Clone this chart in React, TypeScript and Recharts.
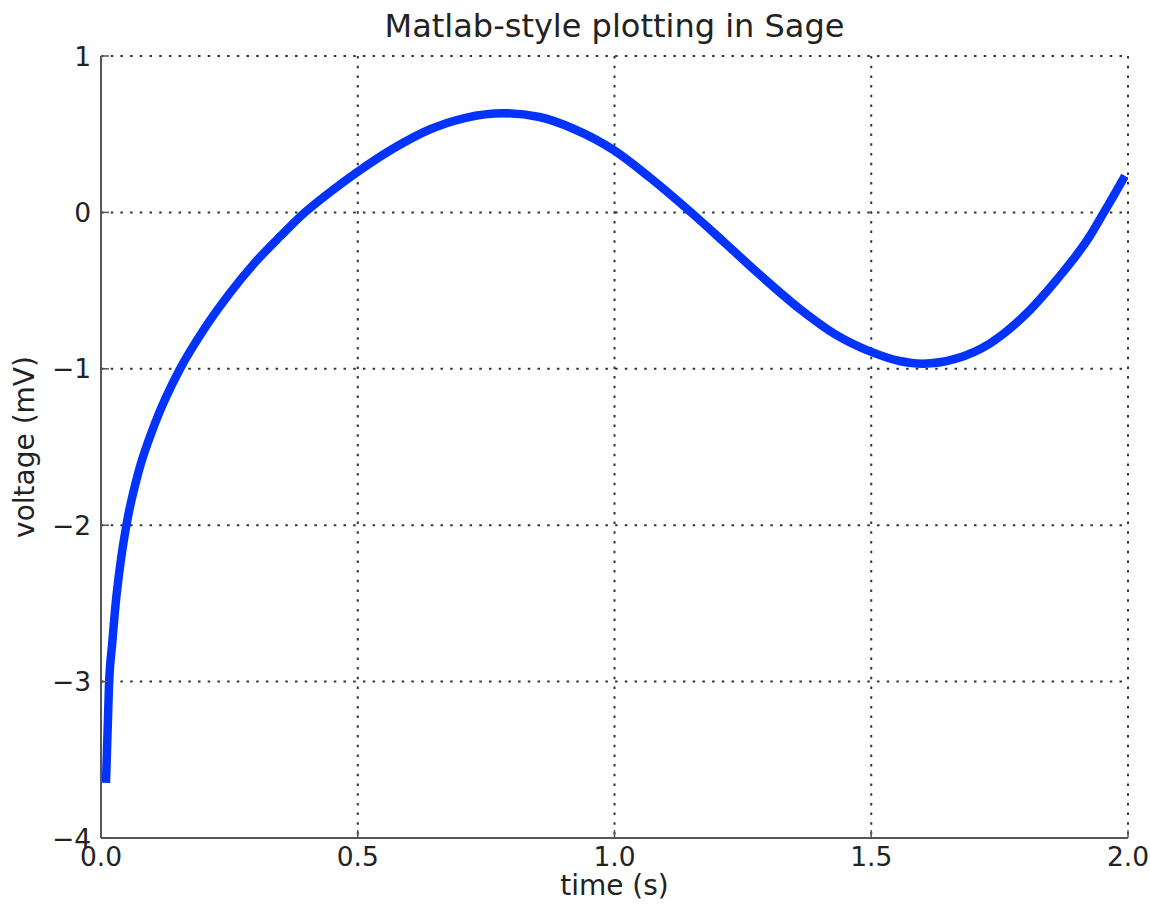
import React from "react";
import {
  LineChart,
  Line,
  XAxis,
  YAxis,
  CartesianGrid,
  Label,
} from "recharts";

// time (s) samples
const times: number[] = [
  0.01, 0.0156, 0.022, 0.0286, 0.038, 0.05, 0.073, 0.105, 0.154, 0.2, 0.25,
  0.3, 0.35, 0.397, 0.45, 0.5, 0.57, 0.64, 0.71, 0.783, 0.854, 0.92, 1.0,
  1.07, 1.149, 1.21, 1.28, 1.36, 1.43, 1.5, 1.555, 1.6, 1.665, 1.73, 1.795,
  1.86, 1.925, 1.953, 1.97, 1.99,
];
// voltage (mV) values
const voltages: number[] = [
  -3.62, -3.02, -2.75, -2.5, -2.24, -1.99, -1.66, -1.35, -1.0, -0.75, -0.52,
  -0.32, -0.15, 0.0, 0.14, 0.26, 0.41, 0.53, 0.605, 0.634, 0.61, 0.535, 0.395,
  0.22, 0.0, -0.18, -0.39, -0.615, -0.78, -0.892, -0.95, -0.967, -0.935,
  -0.84, -0.67, -0.435, -0.155, 0.0, 0.095, 0.21,
];

const xTicks: number[] = [0, 0.5, 1.0, 1.5, 2.0];
const yTicks: number[] = [-4, -3, -2, -1, 0, 1];
const xTickLabels: string[] = ["0.0", "0.5", "1.0", "1.5", "2.0"];
const yTickLabels: string[] = ["−4", "−3", "−2", "−1", "0", "1"];

const titleText = "Matlab-style plotting in Sage";
const xLabelText = "time (s)";
const yLabelText = "voltage (mV)";

const data = times.map((t, i) => ({ t, v: voltages[i] }));

const FONT = "'DejaVu Sans', Verdana, sans-serif";
const TEXT_COLOR = "#222";
const SPINE = "#555";
const TICK_LEN = 8;
const MARGIN_TOP = 48;
const TICK_FONT = 26.5;
const LABEL_FONT = 28;
const TITLE_FONT = 32;

const BottomTick = (props: any) => {
  const { x, y, payload } = props;
  const idx = xTicks.indexOf(payload.value);
  return (
    <g>
      <line x1={x} x2={x} y1={y} y2={y - TICK_LEN} stroke={SPINE} strokeWidth={1.5} />
      <text
        x={x}
        y={y + 28}
        textAnchor="middle"
        fontFamily={FONT}
        fontSize={TICK_FONT}
        fill={TEXT_COLOR}
      >
        {idx >= 0 ? xTickLabels[idx] : String(payload.value)}
      </text>
    </g>
  );
};

const TopTick = (props: any) => {
  const { x, y } = props;
  return <line x1={x} x2={x} y1={y} y2={y + TICK_LEN} stroke={SPINE} strokeWidth={1.5} />;
};

const LeftTick = (props: any) => {
  const { x, y, payload } = props;
  const idx = yTicks.indexOf(payload.value);
  return (
    <g>
      <line x1={x} x2={x + TICK_LEN} y1={y} y2={y} stroke={SPINE} strokeWidth={1.5} />
      <text
        x={x - 10}
        y={y}
        dy="0.36em"
        textAnchor="end"
        fontFamily={FONT}
        fontSize={TICK_FONT}
        fill={TEXT_COLOR}
      >
        {idx >= 0 ? yTickLabels[idx] : String(payload.value)}
      </text>
    </g>
  );
};

const RightTick = (props: any) => {
  const { x, y } = props;
  return <line x1={x} x2={x - TICK_LEN} y1={y} y2={y} stroke={SPINE} strokeWidth={1.5} />;
};

export default function App() {
  return (
    <div
      style={{
        width: 1150,
        height: 904,
        padding: "8px 0 0 8px",
        boxSizing: "border-box",
        background: "#fff",
      }}
    >
      <style>{`html { overflow: hidden; } body { margin: 0; } .recharts-wrapper, .recharts-surface { overflow: visible !important; }`}</style>
      <LineChart
        width={1142}
        height={888}
        data={data}
        style={{ overflow: "visible" }}
        margin={{ top: MARGIN_TOP, right: 22, bottom: 0, left: 0 }}
      >
        <CartesianGrid
          xAxisId="bottom"
          yAxisId="left"
          stroke="#333"
          strokeWidth={2}
          strokeDasharray="2.5 7.2"
          horizontalValues={yTicks}
          verticalValues={xTicks}
        />
        <XAxis
          xAxisId="bottom"
          dataKey="t"
          type="number"
          domain={[0, 2]}
          ticks={xTicks}
          interval={0}
          allowDataOverflow
          height={58}
          tickSize={0}
          tickMargin={0}
          tickLine={false}
          axisLine={{ stroke: SPINE, strokeWidth: 2 }}
          tick={BottomTick}
        >
          <Label
            content={(p: any) => {
              const vb = p.viewBox;
              return (
                <g>
                  <text
                    x={vb.x + vb.width / 2}
                    y={vb.y + 57}
                    textAnchor="middle"
                    fontFamily={FONT}
                    fontSize={LABEL_FONT}
                    fill={TEXT_COLOR}
                  >
                    {xLabelText}
                  </text>
                  <text
                    x={vb.x + vb.width / 2}
                    y={MARGIN_TOP - 19}
                    textAnchor="middle"
                    fontFamily={FONT}
                    fontSize={TITLE_FONT}
                    fill={TEXT_COLOR}
                  >
                    {titleText}
                  </text>
                </g>
              );
            }}
          />
        </XAxis>
        <XAxis
          xAxisId="top"
          orientation="top"
          dataKey="t"
          type="number"
          domain={[0, 2]}
          ticks={xTicks}
          interval={0}
          allowDataOverflow
          height={0}
          tickSize={0}
          tickMargin={0}
          tickLine={false}
          axisLine={{ stroke: SPINE, strokeWidth: 2 }}
          tick={TopTick}
        />
        <YAxis
          yAxisId="left"
          type="number"
          domain={[-4, 1]}
          ticks={yTicks}
          interval={0}
          allowDataOverflow
          width={93}
          tickSize={0}
          tickMargin={0}
          tickLine={false}
          axisLine={{ stroke: SPINE, strokeWidth: 2 }}
          tick={LeftTick}
        >
          <Label
            content={(p: any) => {
              const vb = p.viewBox;
              const cx = vb.x + 26;
              const cy = vb.y + vb.height / 2;
              return (
                <text
                  x={cx}
                  y={cy}
                  transform={`rotate(-90, ${cx}, ${cy})`}
                  textAnchor="middle"
                  fontFamily={FONT}
                  fontSize={LABEL_FONT}
                  fill={TEXT_COLOR}
                >
                  {yLabelText}
                </text>
              );
            }}
          />
        </YAxis>
        <YAxis
          yAxisId="right"
          orientation="right"
          type="number"
          domain={[-4, 1]}
          ticks={yTicks}
          interval={0}
          allowDataOverflow
          width={0}
          tickSize={0}
          tickMargin={0}
          tickLine={false}
          axisLine={{ stroke: SPINE, strokeWidth: 2 }}
          tick={RightTick}
        />
        <Line
          xAxisId="bottom"
          yAxisId="left"
          dataKey="v"
          type="monotone"
          stroke="#0033ff"
          strokeWidth={8.5}
          strokeLinecap="square"
          strokeLinejoin="round"
          dot={false}
          activeDot={false}
          isAnimationActive={false}
        />
      </LineChart>
    </div>
  );
}
